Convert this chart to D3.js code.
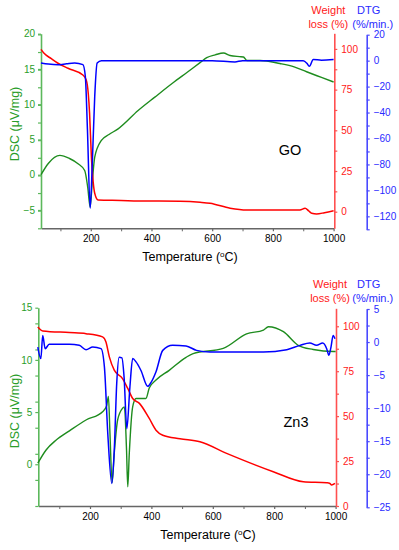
<!DOCTYPE html>
<html><head><meta charset="utf-8">
<script src="https://cdn.jsdelivr.net/npm/d3@7"></script>
<style>
body{margin:0;background:#fff;}
svg{display:block;font-family:"Liberation Sans",Arial,sans-serif;}
</style></head>
<body><svg id="c" width="399" height="550"></svg>
<script>
// ---------- Data: GO ----------
const goDscT = [36,60,98,130,158,180,190,198,205,213,235,260,290,356,411,470,520,560,582,610,637,659,690,703,714,758,823,870,911,960,1000];
const goDscV = [0,1.6,2.74,2.3,1.56,0.6,-1.8,-4.6,-1.0,2.5,4.87,5.7,6.5,9.1,11.0,13.0,14.6,15.9,16.6,17.0,17.27,16.9,16.75,16.7,16.2,16.2,15.77,15.3,14.6,13.8,13.15];
const goWtT = [36,46,70,92,125,174,185,192,196,202,208,213,224,300,356,494,560,593,659,714,800,889,906,918,928,944,970,1000];
const goWtV = [99.7,97.3,94.0,91.2,88.1,84,80.9,72,60.6,33.8,18,11.3,7.2,6.9,6.6,6.4,5.8,5.2,2.1,1.0,1.0,1.0,2.1,0.5,-1.0,-1.4,-0.6,0.6];
const goDtgT = [36,60,92,120,147,174,182,189,198,205,213,221,235,400,600,675,700,900,912,920,933,960,1000];
const goDtgV = [-1.8,-2.6,-3.1,-2.4,-1.8,-3.1,-12,-53,-113.7,-79,-27.6,-1.8,0,0,0,-1,0,0,-2,-4.4,0.8,0.4,0.8];
// ---------- Data: Zn3 ----------
const znDscT = [30,57,89,133,187,241,254,260,265,272,279,290,306,312,319,323,328,339,350,382,393,415,458,513,536,634,710,765,781,830,878,927,992,1000];
const znDscV = [0.1,1.37,2.3,3.2,4.24,5.04,5.58,6.5,2.97,-1.76,1.05,4.24,5.36,5.5,1.37,-2.15,1.05,5.5,6.3,6.3,7.3,8.07,9.0,10.25,10.6,11.1,12.5,12.86,13.18,12.7,11.4,11.0,10.8,10.8];
const znWtT = [30,46,133,187,241,252,263,279,306,323,339,361,393,415,437,493,558,645,797,895,971,980,987,998];
const znWtV = [99.6,97.4,96.5,95.9,94.1,91.3,83,75.6,70.9,65.4,59.8,57.1,48.7,42.2,39.4,37.4,35.7,29.3,19.1,13.5,12.9,12.7,11.7,12.6];
const znDtgT = [30,40,46,54,67,133,165,187,209,236,247,258,271,279,287,295,304,311,320,330,339,350,366,388,399,415,437,469,513,547,591,765,841,884,916,938,958,971,978,985,992,998];
const znDtgV = [-0.76,-2.5,1.0,-1.0,-0.35,-0.35,-0.5,-1.15,-0.76,-1.0,-3.8,-13.9,-21.4,-16.4,-6.3,-2.3,-2.4,-5.3,-13.1,-6.8,-2.5,-3.0,-4.3,-6.7,-6.1,-4.5,-1.26,-0.5,-0.6,-1.26,-1.5,-1.5,-1.15,-0.5,-0.15,-0.5,-0.15,-1.0,-2.0,-0.76,1.0,0.5];
// ---------- Ticks ----------
const xMajor = [200,400,600,800,1000];
const xMinor = [100,300,500,700,900];
const goDscTicks = [-5,0,5,10,15,20];
const znDscTicks = [0,5,10,15];
const wtTicks = [0,25,50,75,100];
const goDtgTicks = [-120,-100,-80,-60,-40,-20,0,20];
const znDtgTicks = [-25,-20,-15,-10,-5,0,5];

const C = {
  green:"#1e8c1e", greenAx:"#5cb85c", greenTx:"#2a9d2a",
  red:"#ff0000", redAx:"#ff5050", redTx:"#ff2020",
  blue:"#0000ff", blueAx:"#4a4aff", blueTx:"#2a2aff"
};
const svg = d3.select("#c");
const fmt = d3.format("d");

function minors(majors, step, lo, hi){
  const out=[]; for(let v=lo; v<=hi+1e-9; v+=step){ if(!majors.some(m=>Math.abs(m-v)<1e-9)) out.push(v);} return out;
}

function panel(p){
  const g = svg.append("g");
  const x = d3.scaleLinear().domain(p.xDom).range(p.xRange);
  const yD = d3.scaleLinear().domain(p.dscDom).range(p.dscRange);
  const yW = d3.scaleLinear().domain(p.wtDom).range(p.wtRange);
  const yT = d3.scaleLinear().domain(p.dtgDom).range(p.dtgRange);
  const bottom = p.dscRange[0];

  function styleAxis(sel, col, txt){
    sel.select(".domain").attr("stroke", col).attr("stroke-width",1.6);
    sel.selectAll(".tick line").attr("stroke", col).attr("stroke-width",1.2);
    sel.selectAll("text").attr("fill", txt).attr("font-size",10).attr("font-family",'"Liberation Sans",Arial,sans-serif');
  }
  // x axis
  const xa = g.append("g").attr("transform",`translate(0,${bottom})`)
    .call(d3.axisBottom(x).tickValues(xMajor).tickFormat(fmt).tickSize(3).tickPadding(4).tickSizeOuter(0));
  styleAxis(xa,"#666","#000");
  g.append("g").attr("transform",`translate(0,${bottom})`)
    .call(d3.axisBottom(x).tickValues(xMinor).tickSize(3).tickFormat("").tickSizeOuter(0))
    .call(s=>{s.select(".domain").remove(); s.selectAll("line").attr("stroke","#666");});
  // left DSC axis
  const la = g.append("g").attr("transform",`translate(${p.xRange[0]},0)`)
    .call(d3.axisLeft(yD).tickValues(p.dscTicks).tickFormat(fmt).tickSize(3).tickPadding(3).tickSizeOuter(0));
  styleAxis(la,C.greenAx,C.greenTx);
  g.append("g").attr("transform",`translate(${p.xRange[0]},0)`)
    .call(d3.axisLeft(yD).tickValues(minors(p.dscTicks,2.5,p.dscDom[0],p.dscDom[1])).tickSize(3).tickFormat("").tickSizeOuter(0))
    .call(s=>{s.select(".domain").remove(); s.selectAll("line").attr("stroke",C.greenAx).attr("stroke-width",1.2);});
  // red axis
  const ra = g.append("g").attr("transform",`translate(${p.redX},0)`)
    .call(d3.axisRight(yW).tickValues(wtTicks).tickFormat(fmt).tickSize(3).tickPadding(4).tickSizeOuter(0));
  styleAxis(ra,C.redAx,C.redTx);
  g.append("g").attr("transform",`translate(${p.redX},0)`)
    .call(d3.axisRight(yW).tickValues(minors(wtTicks,12.5,0,112.5).filter(v=>v>=p.wtDom[0]&&v<=p.wtDom[1])).tickSize(3).tickFormat("").tickSizeOuter(0))
    .call(s=>{s.select(".domain").remove(); s.selectAll("line").attr("stroke",C.redAx).attr("stroke-width",1.2);});
  // blue axis
  const ba = g.append("g").attr("transform",`translate(${p.blueX},0)`)
    .call(d3.axisRight(yT).tickValues(p.dtgTicks).tickFormat(fmt).tickSize(3).tickPadding(4).tickSizeOuter(0));
  styleAxis(ba,C.blueAx,C.blueTx);
  g.append("g").attr("transform",`translate(${p.blueX},0)`)
    .call(d3.axisRight(yT).tickValues(minors(p.dtgTicks,p.dtgMinor,p.dtgDom[0],p.dtgDom[1])).tickSize(3).tickFormat("").tickSizeOuter(0))
    .call(s=>{s.select(".domain").remove(); s.selectAll("line").attr("stroke",C.blueAx).attr("stroke-width",1.2);});

  // curves
  const mk = (ys)=>d3.line().x(d=>x(d[0])).y(d=>ys(d[1])).curve(d3.curveMonotoneX);
  const zip=(a,b)=>a.map((v,i)=>[v,b[i]]);
  g.append("path").attr("d",mk(yD)(zip(p.dscT,p.dscV))).attr("fill","none").attr("stroke",C.green).attr("stroke-width",1.4);
  g.append("path").attr("d",mk(yW)(zip(p.wtT,p.wtV))).attr("fill","none").attr("stroke",C.red).attr("stroke-width",1.5);
  g.append("path").attr("d",mk(yT)(zip(p.dtgT,p.dtgV))).attr("fill","none").attr("stroke",C.blue).attr("stroke-width",1.5);

  // titles
  const xt = g.append("text").attr("x",p.xTitleX).attr("y",bottom+33).attr("text-anchor","middle").attr("font-size",12.5).attr("fill","#000");
  xt.append("tspan").text("Temperature (");
  xt.append("tspan").attr("dy",-4).attr("font-size",8).text("o");
  xt.append("tspan").attr("dy",4).text("C)");
  g.append("text").attr("transform",`translate(${p.dscTitleX},${p.dscTitleY}) rotate(-90)`).attr("text-anchor","middle")
    .attr("font-size",12.5).attr("fill",C.greenTx).text("DSC (μV/mg)");
  g.append("text").attr("x",p.redX-6).attr("y",p.topT).attr("text-anchor","middle").attr("font-size",11).attr("fill",C.redTx).text("Weight");
  g.append("text").attr("x",p.redX-6).attr("y",p.topT+14).attr("text-anchor","middle").attr("font-size",11).attr("fill",C.redTx).text("loss (%)");
  g.append("text").attr("x",p.blueX+2).attr("y",p.topT).attr("text-anchor","middle").attr("font-size",11).attr("fill",C.blueTx).text("DTG");
  g.append("text").attr("x",p.blueX+6).attr("y",p.topT+14).attr("text-anchor","middle").attr("font-size",11).attr("fill",C.blueTx).text("(%/min.)");
  g.append("text").attr("x",p.labX).attr("y",p.labY).attr("text-anchor","middle").attr("font-size",14.5).attr("fill","#000").text(p.label);
}

panel({
  xDom:[36,1000], xRange:[41,333.6],
  dscDom:[-7.6,20], dscRange:[228.3,33.7],
  wtDom:[-10.2,109.6], wtRange:[228.3,33.3],
  dtgDom:[-130,20], dtgRange:[229.3,34.7], dtgMinor:10,
  redX:334.3, blueX:366.7,
  dscTicks:goDscTicks, dtgTicks:goDtgTicks,
  dscT:goDscT, dscV:goDscV, wtT:goWtT, wtV:goWtV, dtgT:goDtgT, dtgV:goDtgV,
  xTitleX:190, dscTitleX:19, dscTitleY:124, topT:14, label:"GO", labX:290, labY:155
});
panel({
  xDom:[31.6,1000], xRange:[38.3,335.6],
  dscDom:[-4,15], dscRange:[506,307.7],
  wtDom:[0,110], wtRange:[506,308.3],
  dtgDom:[-25,5], dtgRange:[507.3,309], dtgMinor:2.5,
  redX:336, blueX:366.7,
  dscTicks:znDscTicks, dtgTicks:znDtgTicks,
  dscT:znDscT, dscV:znDscV, wtT:znWtT, wtV:znWtV, dtgT:znDtgT, dtgV:znDtgV,
  xTitleX:208, dscTitleX:19, dscTitleY:411, topT:288, label:"Zn3", labX:296, labY:427
});
</script></body></html>
